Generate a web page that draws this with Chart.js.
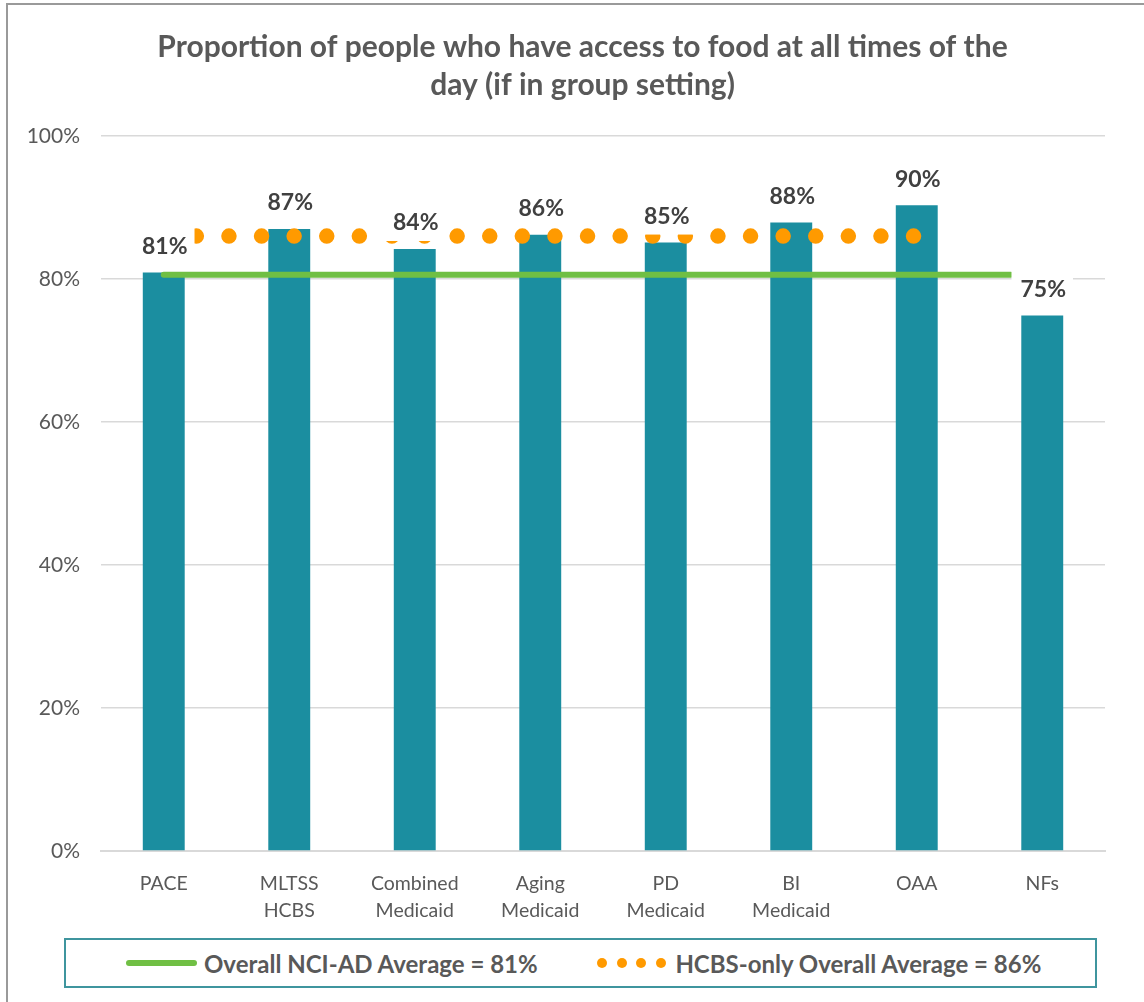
<!DOCTYPE html>
<html>
<head>
<meta charset="utf-8">
<script src="https://cdn.jsdelivr.net/npm/chart.js@4"></script>
<style>
  html, body { margin: 0; padding: 0; background: #ffffff; }
  body { width: 1144px; height: 1002px; position: relative; overflow: hidden; font-family: Lato, "Liberation Sans", sans-serif; }
  #frame { position: absolute; left: 6px; top: 3px; width: 1150px; height: 1010px; border-top: 2px solid #9a9a9a; border-left: 2px solid #9a9a9a; box-sizing: border-box; }
  #wrap { position: absolute; left: 0; top: 0; width: 1144px; height: 930px; }
  #legend { position: absolute; left: 64px; top: 938px; width: 1033px; height: 50px; border: 2px solid #3f959e; box-sizing: border-box; }
  .item { position: absolute; top: 0; height: 46px; display: flex; align-items: center; font-weight: bold; font-size: 24px; color: #595959; white-space: nowrap; }
  .gline { width: 71px; height: 6px; border-radius: 3px; background: #70BF44; margin-right: 7px; }
  .dot { width: 10px; height: 10px; border-radius: 50%; background: #FF9A00; margin-right: 9.6px; }
</style>
</head>
<body>
<div id="frame"></div>
<div id="wrap"><canvas id="c"></canvas></div>
<div id="legend">
  <div class="item" style="left:60px"><span class="gline"></span><span id="lg1"></span></div>
  <div class="item" style="left:531px"><span class="dot"></span><span class="dot"></span><span class="dot"></span><span class="dot"></span><span id="lg2"></span></div>
</div>
<script>
// ---- data ----
const chartTitle = ['Proportion of people who have access to food at all times of the', 'day (if in group setting)'];
const categories = [['PACE'], ['MLTSS', 'HCBS'], ['Combined', 'Medicaid'], ['Aging', 'Medicaid'], ['PD', 'Medicaid'], ['BI', 'Medicaid'], ['OAA'], ['NFs']];
const barValues = [80.9, 87.0, 84.2, 86.2, 85.1, 87.9, 90.3, 74.9];
const overallAverage = 80.6;
const overallSpan = [0, 6.75];      // category positions the overall-average line spans
const hcbsAverage = 86.0;
const hcbsSpan = [0, 6];            // category positions the HCBS-only line spans
const legendLabels = ['Overall NCI-AD Average = 81%', 'HCBS-only Overall Average = 86%'];
const yTicks = [0, 20, 40, 60, 80, 100];

document.getElementById('lg1').textContent = legendLabels[0];
document.getElementById('lg2').textContent = legendLabels[1];

const FONT = 'Lato, "Liberation Sans", sans-serif';

const barLabels = {
  id: 'barLabels',
  afterDatasetsDraw(chart) {
    const ctx = chart.ctx;
    const meta = chart.getDatasetMeta(0);
    ctx.save();
    ctx.font = 'bold 23px ' + FONT;
    ctx.textAlign = 'center';
    ctx.textBaseline = 'middle';
    meta.data.forEach((el, i) => {
      const txt = Math.round(barValues[i]) + '%';
      const w = ctx.measureText(txt).width + 16;
      const cy = el.y - 27;
      ctx.fillStyle = '#ffffff';
      ctx.fillRect(el.x - w / 2, cy - 19, w, 38);
      ctx.fillStyle = '#404040';
      ctx.fillText(txt, el.x + 1, cy + 1);
    });
    ctx.restore();
  }
};

new Chart(document.getElementById('c'), {
  type: 'bar',
  data: {
    datasets: [
      {
        type: 'bar',
        label: 'Bars',
        data: barValues.map((v, i) => ({ x: i, y: v })),
        backgroundColor: '#1B8EA0',
        grouped: false,
        categoryPercentage: 1,
        barPercentage: 0.334,
        order: 3
      },
      {
        type: 'line',
        label: legendLabels[0],
        data: overallSpan.map(x => ({ x: x, y: overallAverage })),
        borderColor: '#70BF44',
        borderWidth: 6,
        borderCapStyle: 'round',
        pointRadius: 0,
        fill: false,
        order: 2
      },
      {
        type: 'line',
        label: legendLabels[1],
        data: hcbsSpan.map(x => ({ x: x, y: hcbsAverage })),
        borderColor: '#FF9A00',
        borderWidth: 15.5,
        borderCapStyle: 'round',
        borderDash: [0, 32.6],
        pointRadius: 0,
        fill: false,
        order: 1
      }
    ]
  },
  options: {
    responsive: true,
    maintainAspectRatio: false,
    animation: false,
    events: [],
    layout: { padding: { top: 28, left: 21, right: 0, bottom: 0 } },
    plugins: {
      legend: { display: false },
      tooltip: { enabled: false },
      title: {
        display: true,
        text: chartTitle,
        color: '#595959',
        font: { family: FONT, size: 30, weight: 'bold', lineHeight: 1.267 },
        padding: { top: 0, bottom: 32 }
      }
    },
    scales: {
      x: {
        type: 'linear',
        min: -0.5,
        max: 7.5,
        offset: false,
        afterBuildTicks(scale) { scale.ticks = categories.map((c, i) => ({ value: i })); },
        grid: { display: false, drawTicks: false, offset: false },
        border: { display: true, color: '#d9d9d9', width: 2 },
        ticks: {
          color: '#595959',
          font: { family: FONT, size: 19.5, lineHeight: 1.385 },
          padding: 19,
          maxRotation: 0,
          autoSkip: false,
          callback: v => categories[v]
        },
        afterFit(scale) { scale.height = 79; }
      },
      y: {
        min: 0,
        max: 100,
        afterBuildTicks(scale) { scale.ticks = yTicks.map(v => ({ value: v })); },
        grid: { color: '#d9d9d9', lineWidth: 1.5, drawTicks: false },
        border: { display: false },
        ticks: { color: '#595959', font: { family: FONT, size: 21 }, padding: 21, callback: v => v + '%' },
        afterFit(scale) { scale.width = 80; }
      },
      yRightSpace: {
        type: 'linear',
        position: 'right',
        min: 0,
        max: 100,
        grid: { display: false, drawTicks: false },
        border: { display: false },
        ticks: { display: false },
        afterFit(scale) { scale.width = 39; }
      }
    }
  },
  plugins: [barLabels]
});
</script>
</body>
</html>
